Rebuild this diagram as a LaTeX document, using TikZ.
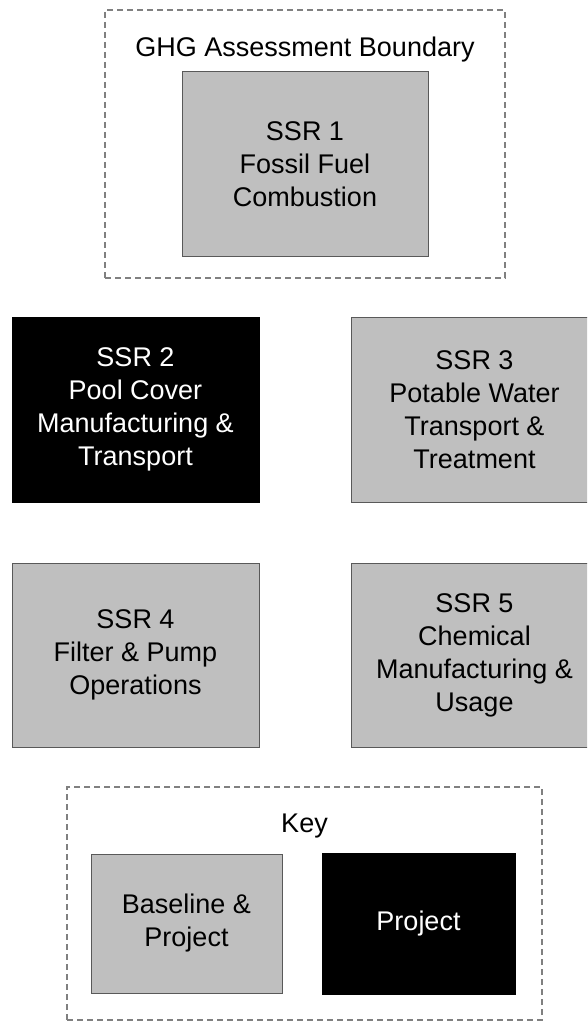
\documentclass[tikz,border=0pt]{standalone}
\usepackage{fontspec}
\setmainfont{Liberation Sans}
\tikzset {
    txt/.style = {font = \fontsize{27}{33}\selectfont, align = center},
    ssr/.style = {txt, draw = black!65, fill = black!25, line width = 1pt, inner sep = 0pt},
    project/.style = {txt, draw = black, fill = black, text = white, line width = 1pt, inner sep = 0pt},
    boundary/.style = {draw = black!50, dash pattern = on 6pt off 4pt, line width = 1.2pt, inner sep = 0pt},
    title/.style = {txt, anchor = base, inner sep = 0pt}
}
\begin{document}
\begin{tikzpicture}[x = 1pt, y = -1pt]
    \useasboundingbox (0, 0) rectangle (587, 1022);
    \clip (0, 0) rectangle (587, 1022);
    % assessment boundary
    \node (bnd) [boundary, minimum width = 400pt, minimum height = 268pt] at (305, 144) {};
    \node (bnd title) [title] at (305, 57) {GHG Assessment Boundary};
    \node (ssr1) [ssr, minimum width = 246pt, minimum height = 184pt] at (305, 164) {SSR 1\\Fossil Fuel\\Combustion};
    % sources, sinks and reservoirs
    \node (ssr2) [project, minimum width = 247pt, minimum height = 185pt] at (135.5, 409.5) {SSR 2\\Pool Cover\\Manufacturing \&\\Transport};
    \node (ssr3) [ssr, minimum width = 247pt, minimum height = 185pt] at (474.5, 409.5) {SSR 3\\Potable Water\\Transport \&\\Treatment};
    \node (ssr4) [ssr, minimum width = 247pt, minimum height = 184pt] at (135.5, 655) {SSR 4\\Filter \& Pump\\Operations};
    \node (ssr5) [ssr, minimum width = 247pt, minimum height = 184pt] at (474.5, 655) {SSR 5\\Chemical\\Manufacturing \&\\Usage};
    % key
    \node (key) [boundary, minimum width = 475pt, minimum height = 233pt] at (304.5, 903.5) {};
    \node (key title) [title] at (304.5, 832) {Key};
    \node (key base) [ssr, minimum width = 191pt, minimum height = 139pt] at (186.5, 923.5) {Baseline \&\\Project};
    \node (key proj) [project, minimum width = 193pt, minimum height = 141pt] at (418.5, 923.5) {Project};
\end{tikzpicture}
\end{document}
